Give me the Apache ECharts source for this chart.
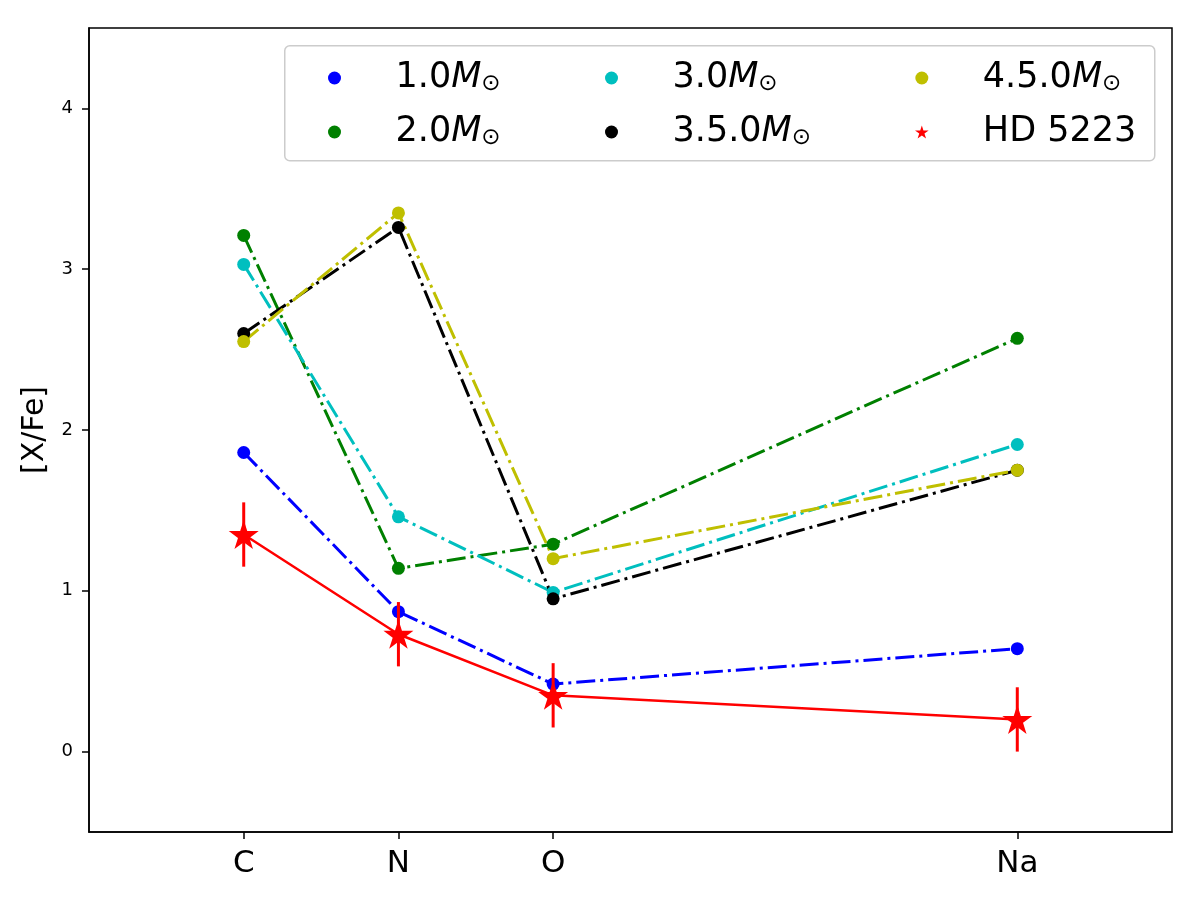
<!DOCTYPE html>
<html>
<head>
<meta charset="utf-8">
<script src="https://cdn.jsdelivr.net/npm/echarts@6/dist/echarts.min.js"></script>
<style>html,body{margin:0;padding:0;background:#fff}#chart{width:1200px;height:900px}</style>
</head>
<body>
<div id="chart"></div>
<script>
// Element positions (atomic numbers) and labels
const elementZ = [6, 7, 8, 11];
const elementLabels = ['C', 'N', 'O', 'Na'];
const yTicks = [0, 1, 2, 3, 4];

// Model yields [X/Fe]
const m10 = [1.86, 0.87, 0.42, 0.64];
const m20 = [3.21, 1.14, 1.29, 2.57];
const m30 = [3.03, 1.46, 0.99, 1.91];
const m35 = [2.60, 3.26, 0.95, 1.75];
const m45 = [2.55, 3.35, 1.20, 1.75];

// Observed HD 5223
const hdValues = [1.35, 0.73, 0.35, 0.20];
const hdErrors = [0.2, 0.2, 0.2, 0.2];

const seriesNames = ['1.0', '2.0', '3.0', '3.5.0', '4.5.0', 'HD 5223'];
const seriesColors = ['#0000ff', '#008000', '#00bfbf', '#000000', '#bfbf00', '#ff0000'];

const STAR = 'path://M50,0 L61.23,34.55 L97.55,34.55 L68.17,55.9 L79.39,90.45 L50,69.1 L20.61,90.45 L31.83,55.9 L2.45,34.55 L38.77,34.55 Z';
const FONT = 'DejaVu Sans';

function pairs(vals) { return elementZ.map((z, i) => [z, vals[i]]); }

function modelSeries(name, vals, color) {
  return {
    name: name, type: 'line', data: pairs(vals),
    symbol: 'circle', symbolSize: 13, showSymbol: true,
    itemStyle: { color: color },
    lineStyle: { color: color, width: 3, type: [19, 5, 3, 5] },
    z: 2
  };
}

const rich = {
  t: { fontSize: 35, fontFamily: FONT, lineHeight: 40, color: '#000' },
  i: { fontSize: 35, fontFamily: FONT, fontStyle: 'italic', lineHeight: 40, color: '#000' },
  s: { fontSize: 23, fontFamily: FONT, lineHeight: 40, color: '#000', padding: [12, 0, 0, 0] }
};
function legendFmt(name) {
  if (name === 'HD 5223') return '{t|HD 5223}';
  return '{t|' + name + '}{i|M}{s|⊙}';
}
function makeLegend(names, left) {
  return {
    orient: 'vertical', left: left, top: 58, padding: 0,
    itemWidth: 112, itemHeight: 13, itemGap: 14,
    data: names.map(n => ({ name: n, icon: n === 'HD 5223' ? STAR : 'circle' })),
    formatter: legendFmt,
    textStyle: { fontSize: 35, fontFamily: FONT, lineHeight: 40, color: '#000', rich: rich },
    selectedMode: false, z: 5
  };
}

const chart = echarts.init(document.getElementById('chart'));
chart.setOption({
  animation: false,
  backgroundColor: '#fff',
  textStyle: { fontFamily: FONT },
  grid: { left: 89, right: 28, top: 28, bottom: 68, show: true, borderColor: '#000', borderWidth: 1.5, backgroundColor: 'transparent' },
  graphic: [{
    type: 'rect', left: 284, top: 45, z: 3,
    shape: { width: 870, height: 115, r: 5 },
    style: { fill: 'rgba(255,255,255,0.8)', stroke: '#cccccc', lineWidth: 1.5 }
  }],
  legend: [
    makeLegend([seriesNames[0], seriesNames[1]], 328),
    makeLegend([seriesNames[2], seriesNames[3]], 605),
    makeLegend([seriesNames[4], seriesNames[5]], 915)
  ],
  xAxis: {
    type: 'value', min: 5, max: 12,
    axisLine: { show: true, onZero: false, lineStyle: { color: '#000', width: 1.5 } },
    axisTick: { show: true, length: 7, lineStyle: { color: '#000', width: 1.5 }, customValues: elementZ },
    axisLabel: {
      customValues: elementZ, fontSize: 31, color: '#000', fontFamily: FONT, margin: 16,
      formatter: v => { const k = elementZ.indexOf(v); return k >= 0 ? elementLabels[k] : ''; }
    },
    splitLine: { show: false }
  },
  yAxis: {
    type: 'value', min: -0.5, max: 4.5,
    name: '[X/Fe]', nameLocation: 'middle', nameGap: 35,
    nameTextStyle: { fontSize: 30, color: '#000', fontFamily: FONT },
    axisLine: { show: true, onZero: false, lineStyle: { color: '#000', width: 1.5 } },
    axisTick: { show: true, length: 7, lineStyle: { color: '#000', width: 1.5 }, customValues: yTicks },
    axisLabel: { customValues: yTicks, fontSize: 18, color: '#000', fontFamily: FONT, margin: 16 },
    splitLine: { show: false }
  },
  series: [
    modelSeries(seriesNames[0], m10, seriesColors[0]),
    modelSeries(seriesNames[1], m20, seriesColors[1]),
    modelSeries(seriesNames[2], m30, seriesColors[2]),
    modelSeries(seriesNames[3], m35, seriesColors[3]),
    modelSeries(seriesNames[4], m45, seriesColors[4]),
    {
      name: 'HD 5223 err', type: 'custom', z: 3,
      data: elementZ.map((z, i) => [z, hdValues[i] - hdErrors[i], hdValues[i] + hdErrors[i]]),
      renderItem: function (params, api) {
        const p0 = api.coord([api.value(0), api.value(1)]);
        const p1 = api.coord([api.value(0), api.value(2)]);
        return { type: 'line', shape: { x1: p0[0], y1: p0[1], x2: p1[0], y2: p1[1] },
                 style: { stroke: seriesColors[5], lineWidth: 3 } };
      },
      encode: { x: 0, y: [1, 2] },
      silent: true
    },
    {
      name: seriesNames[5], type: 'line', data: pairs(hdValues), z: 4,
      symbol: STAR, symbolSize: [30, 29], showSymbol: true,
      itemStyle: { color: seriesColors[5] },
      lineStyle: { color: seriesColors[5], width: 2.5, type: 'solid' }
    }
  ]
});
</script>
</body>
</html>
